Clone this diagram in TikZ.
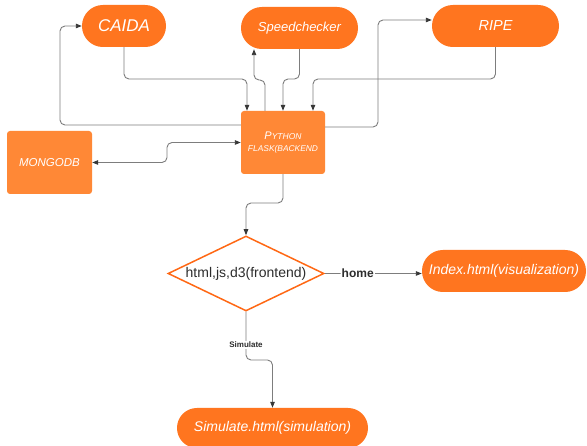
\documentclass[tikz,border=0pt]{standalone}
\usepackage{fontspec}
\setmainfont{Liberation Sans}
\usetikzlibrary{shapes.geometric,arrows.meta}
\definecolor{pillc}{RGB}{255,117,31}
\definecolor{boxc}{RGB}{255,136,54}
\definecolor{dia}{RGB}{255,104,20}
\definecolor{linec}{RGB}{125,125,125}
\definecolor{tipc}{RGB}{55,55,55}
\definecolor{txtc}{RGB}{45,45,45}
\begin{document}
\begin{tikzpicture}[x=1pt,y=-1pt,
  pill/.style={fill=pillc, text=white, rounded corners=20.9pt, minimum height=42pt, inner sep=0pt},
  box/.style={fill=boxc, text=white, rounded corners=3pt, inner sep=0pt, align=center},
  decision/.style={diamond, draw=dia, line width=1.5pt, fill=white, aspect=2.08,
    minimum width=156pt, minimum height=75pt, inner sep=0pt, text=txtc,
    font=\fontsize{14}{16}\selectfont},
  conn/.style={draw=linec, line width=0.9pt, rounded corners=5pt,
    -{Triangle[length=6pt,width=4.5pt,color=tipc]}},
  dconn/.style={conn, {Triangle[length=6pt,width=4.5pt,color=tipc]}-{Triangle[length=6pt,width=4.5pt,color=tipc]}},
  lbl/.style={fill=white, text=txtc, inner sep=1pt, font=\bfseries}
]
\fill[white] (0,0) rectangle (587,446);
\useasboundingbox (0,0) rectangle (587,446);

% nodes
\node[pill, minimum width=84pt, font=\fontsize{17}{20}\selectfont\itshape] (caida) at (124,26) {CAIDA};
\node[pill, minimum width=117pt, font=\fontsize{13}{15}\selectfont\itshape] (speed) at (299.5,28) {Speedchecker};
\node[pill, minimum width=127pt, font=\fontsize{14.5}{17}\selectfont\itshape] (ripe) at (495.5,26) {RIPE};
\node[box, minimum width=84pt, minimum height=63pt, font=\itshape] (python) at (283,142.5)
  {{\fontsize{11}{12}\selectfont P\fontsize{8.5}{12}\selectfont YTHON}\\[-0.5pt]{\fontsize{8.4}{12}\selectfont FLASK(BACKEND}};
\node[box, minimum width=85pt, minimum height=63pt, font=\fontsize{11.5}{13}\selectfont\itshape] (mongo) at (49.5,162.5) {MONGODB};
\node[decision] (dec) at (246,273.5) {html,js,d3(frontend)};
\node[pill, minimum width=164pt, font=\fontsize{14}{16}\selectfont\itshape] (index) at (504,271) {Index.html(visualization)};
\node[pill, minimum width=191pt, minimum height=40pt, rounded corners=19.9pt, font=\fontsize{14}{16}\selectfont\itshape] (sim) at (272.5,428) {Simulate.html(simulation)};

% connectors
\draw[conn] (caida.south) |- (247,79) -- ([xshift=-36pt]python.north);
\draw[conn] ([xshift=-18pt]python.north) -- (265,80) -- (254,80) -- ([xshift=-45.5pt]speed.south);
\draw[conn] (speed.south) |- (283,79) -- (python.north);
\draw[conn] (ripe.south) |- (313,79) -- ([xshift=30pt]python.north);
\draw[conn] ([yshift=15.5pt]python.east) -| (378,20) -- ([yshift=6pt]ripe.west);
\draw[conn] ([yshift=17.5pt]python.west) -| (60,26) -- (caida.west);
\draw[dconn] (mongo.east) -| (167,142.5) -- (python.west);
\draw[conn] (python.south) |- (246,203) -- (dec.north);
\draw[conn] (dec.east) -- node[lbl, pos=0.34, font=\fontsize{12}{14}\selectfont\bfseries] {home} (dec.east -| index.west);
\draw[conn] (dec.south) -- node[lbl, pos=0.69, font=\fontsize{8}{10}\selectfont\bfseries] {Simulate} (246,360) -- (272.5,360) -- (sim.north);
\end{tikzpicture}
\end{document}
